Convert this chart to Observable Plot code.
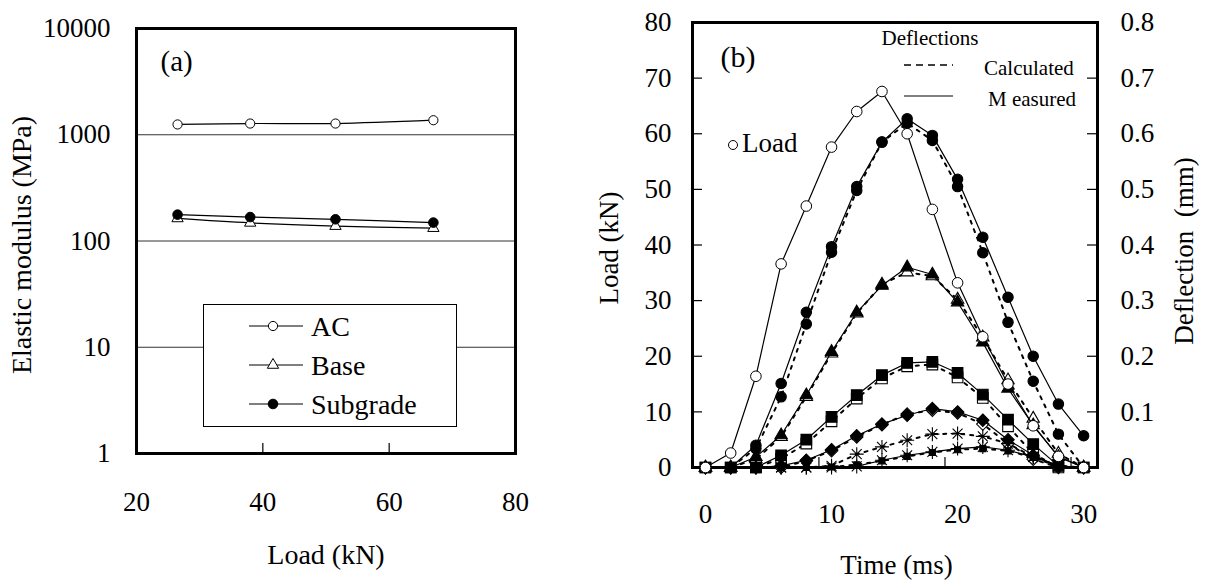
<!DOCTYPE html>
<html><head><meta charset="utf-8">
<script src="https://cdn.jsdelivr.net/npm/d3@7"></script>
<script src="https://cdn.jsdelivr.net/npm/@observablehq/plot@0.6"></script>
<style>
body{margin:0;background:#fff;}
#wrap{position:relative;width:1207px;height:580px;background:#fff;}
#pa{position:absolute;left:0;top:0;width:560px;height:580px;}
#pb{position:absolute;left:560px;top:0;width:647px;height:580px;}
</style></head><body>
<div id="wrap"><div id="pa"></div><div id="pb"></div></div>
<script>
// ---------- Panel (a) data ----------
const loadA = [26.5, 38, 51.5, 67];
const acA = [1250, 1275, 1275, 1370];
const baseA = [163, 148, 138, 132];
const subA = [177, 168, 160, 149];
const xTicksA = [20, 40, 60, 80];
const yTicksA = [1, 10, 100, 1000, 10000];
const gridA = [10, 100, 1000];
const xMarksA = [40, 60];
const legendA = ["AC", "Base", "Subgrade"];

// ---------- Panel (b) data ----------
const timeB = [0, 2, 4, 6, 8, 10, 12, 14, 16, 18, 20, 22, 24, 26, 28, 30];
const loadB = [0, 2.6, 16.4, 36.6, 47.0, 57.6, 64.0, 67.6, 60.0, 46.4, 33.2, 23.5, 15.0, 7.5, 2.0, 0];
const measCircle = [0, 0, 0.040, 0.151, 0.279, 0.397, 0.505, 0.585, 0.627, 0.597, 0.518, 0.414, 0.306, 0.200, 0.114, 0.057];
const calcCircle = [0, 0, 0.034, 0.127, 0.258, 0.387, 0.498, 0.585, 0.619, 0.588, 0.505, 0.386, 0.261, 0.155, 0.060, 0];
const measTri = [0, 0, 0.019, 0.058, 0.130, 0.208, 0.279, 0.327, 0.360, 0.347, 0.297, 0.225, 0.142, 0.076, 0.019, 0];
const calcTri = [0, 0, 0.015, 0.055, 0.127, 0.205, 0.277, 0.329, 0.351, 0.344, 0.302, 0.234, 0.157, 0.088, 0.025, 0];
const measSq = [0, 0, 0, 0.022, 0.050, 0.091, 0.130, 0.166, 0.188, 0.190, 0.170, 0.131, 0.086, 0.042, 0.003, 0];
const calcSq = [0, 0, 0, 0.016, 0.043, 0.083, 0.124, 0.160, 0.182, 0.185, 0.162, 0.125, 0.074, 0.025, 0, 0];
const measDia = [0, 0, 0, 0.003, 0.013, 0.032, 0.057, 0.078, 0.094, 0.106, 0.100, 0.085, 0.050, 0.022, 0.002, 0];
const calcDia = [0, 0, 0, 0, 0.012, 0.030, 0.055, 0.077, 0.096, 0.103, 0.098, 0.078, 0.043, 0.015, 0, 0];
const calcStar = [0, 0, 0, 0, 0, 0.003, 0.024, 0.037, 0.049, 0.060, 0.061, 0.056, 0.043, 0.019, 0.003, 0];
const measLow = [0, 0, 0, 0, 0, 0, 0.002, 0.013, 0.022, 0.028, 0.034, 0.037, 0.031, 0.019, 0.003, 0];
const calcLow = [0, 0, 0, 0, 0, 0.001, 0.005, 0.012, 0.020, 0.027, 0.032, 0.034, 0.030, 0.018, 0.002, 0];
const xTicksB = [0, 10, 20, 30];
const xMarksB = [9, 19, 29];
const yTicksB = [0, 10, 20, 30, 40, 50, 60, 70, 80];
const yMarksB = [10, 20, 30, 40, 50, 60, 70];
const legendB = ["Calculated", "M easured"];

const FONT = '"Liberation Serif", "Times New Roman", serif';

// ---------- Panel (a) ----------
const rowsA = vals => loadA.map((x, i) => ({x, y: vals[i]}));
const styleA = [
  {vals: acA, symbol: "circle", fill: "white", r: 4.6},
  {vals: baseA, symbol: "triangle", fill: "white", r: 4.2},
  {vals: subA, symbol: "circle", fill: "black", r: 4.8}
];
const frameHA = 453 - 28;
const pa = Plot.plot({
  width: 560, height: 580,
  marginLeft: 136, marginRight: 45, marginTop: 28, marginBottom: 127,
  x: {domain: [20, 80]},
  y: {type: "log", domain: [1, 10000]},
  style: {fontFamily: FONT, fontSize: "27px", color: "#000", background: "#fff"},
  marks: [
    Plot.ruleY(gridA, {stroke: "#333", strokeWidth: 1}),
    Plot.frame({stroke: "#000", strokeWidth: 3}),
    Plot.ruleX(xMarksA, {insetTop: frameHA - 10, stroke: "#000", strokeWidth: 1.2}),
    Plot.axisX(xTicksA, {tickSize: 0, tickPadding: 38, label: null, fontSize: 27}),
    Plot.axisY(yTicksA, {tickSize: 0, tickPadding: 26, label: null, fontSize: 27, tickFormat: d3.format("d")}),
    ...styleA.flatMap(s => {
      const data = rowsA(s.vals);
      return [
        Plot.line(data, {x: "x", y: "y", stroke: "#000", strokeWidth: 1.2, curve: "catmull-rom"}),
        Plot.dot(data, {x: "x", y: "y", symbol: s.symbol, r: s.r, fill: s.fill, stroke: "#000", strokeWidth: 1})
      ];
    }),
    Plot.text(["(a)"], {text: d => d, frameAnchor: "top-left", dx: 24, dy: 33, textAnchor: "start", lineAnchor: "middle", fontSize: 29}),
    Plot.text(["Elastic modulus (MPa)"], {text: d => d, frameAnchor: "left", rotate: -90, dx: -114, dy: 4, textAnchor: "middle", lineAnchor: "middle", fontSize: 28}),
    Plot.text(["Load (kN)"], {text: d => d, frameAnchor: "bottom", dy: 102, textAnchor: "middle", lineAnchor: "middle", fontSize: 28})
  ]
});
document.getElementById("pa").append(pa);

// legend (a)
{
  const svg = d3.select(pa);
  const g = svg.append("g");
  g.append("rect").attr("x", 203.5).attr("y", 304.5).attr("width", 253).attr("height", 122)
    .attr("fill", "#fff").attr("stroke", "#000").attr("stroke-width", 1);
  legendA.forEach((name, i) => {
    const y = 326 + i * 39;
    const s = styleA[i];
    g.append("line").attr("x1", 249).attr("x2", 303).attr("y1", y).attr("y2", y)
      .attr("stroke", "#000").attr("stroke-width", 1.2);
    g.append("path").attr("transform", `translate(273,${y})`)
      .attr("d", d3.symbol(s.symbol === "triangle" ? d3.symbolTriangle : d3.symbolCircle, Math.PI * s.r * s.r)())
      .attr("fill", s.fill).attr("stroke", "#000");
    g.append("text").attr("x", 311).attr("y", y).attr("dy", "0.34em")
      .style("font-family", FONT).style("font-size", "28px").style("text-anchor", "start").text(name);
  });
}

// ---------- Panel (b) ----------
const star8 = {draw(ctx, size) {
  const r = Math.sqrt(size / Math.PI);
  for (let i = 0; i < 4; i++) {
    const a = i * Math.PI / 4;
    ctx.moveTo(r * Math.cos(a), r * Math.sin(a));
    ctx.lineTo(-r * Math.cos(a), -r * Math.sin(a));
  }
}};
const seriesB = [
  {vals: calcCircle, symbol: d3.symbolCircle, fill: "black", r: 5.2, dash: true},
  {vals: measCircle, symbol: d3.symbolCircle, fill: "black", r: 5.2, dash: false},
  {vals: calcTri, symbol: d3.symbolTriangle, fill: "white", r: 4.6, dash: true},
  {vals: measTri, symbol: d3.symbolTriangle, fill: "black", r: 4.6, dash: false},
  {vals: calcSq, symbol: d3.symbolSquare, fill: "white", r: 6.0, dash: true},
  {vals: measSq, symbol: d3.symbolSquare, fill: "black", r: 6.0, dash: false},
  {vals: calcDia, symbol: d3.symbolDiamond2, fill: "white", r: 5.6, dash: true},
  {vals: measDia, symbol: d3.symbolDiamond2, fill: "black", r: 5.6, dash: false},
  {vals: calcStar, symbol: star8, fill: "none", r: 7, dash: true},
  {vals: calcLow, symbol: d3.symbolSquare, fill: "black", r: 3.4, dash: true},
  {vals: measLow, symbol: star8, fill: "none", r: 7, dash: false}
];
const rowsB = vals => timeB.map((t, i) => ({t, v: vals[i]}));
const loadRows = rowsB(loadB);
const frameWB = 405, frameHB = 445;
const pb = Plot.plot({
  width: 647, height: 580,
  marginLeft: 132, marginRight: 110, marginTop: 22, marginBottom: 113,
  x: {domain: [-1.03, 31.1]},
  y: {domain: [0, 80]},
  style: {fontFamily: FONT, fontSize: "27px", color: "#000", background: "#fff"},
  marks: [
    Plot.frame({stroke: "#000", strokeWidth: 3}),
    Plot.ruleY(yMarksB, {insetRight: frameWB - 10, stroke: "#000", strokeWidth: 1.2}),
    Plot.ruleY(yMarksB, {insetLeft: frameWB - 10, stroke: "#000", strokeWidth: 1.2}),
    Plot.ruleX(xMarksB, {insetTop: frameHB - 10, stroke: "#000", strokeWidth: 1.2}),
    Plot.axisX(xTicksB, {tickSize: 0, tickPadding: 36, label: null, fontSize: 27}),
    Plot.axisY(yTicksB, {anchor: "left", tickSize: 0, tickPadding: 21, label: null, fontSize: 27}),
    Plot.axisY(yTicksB, {anchor: "right", tickSize: 0, tickPadding: 23, label: null, fontSize: 27,
      tickFormat: d => String(+(d / 100).toFixed(1))}),
    ...seriesB.flatMap(s => {
      const data = rowsB(s.vals);
      return [
        Plot.line(data, {x: "t", y: d => d.v * 100, stroke: "#000",
          strokeWidth: s.dash ? 2 : 1.2, strokeDasharray: s.dash ? "3,6" : null}),
        Plot.dot(data, {x: "t", y: d => d.v * 100, symbol: s.symbol, r: s.r, fill: s.fill,
          stroke: "#000", strokeWidth: 1.1})
      ];
    }),
    Plot.line(loadRows, {x: "t", y: "v", stroke: "#000", strokeWidth: 1.2}),
    Plot.dot(loadRows, {x: "t", y: "v", symbol: "circle", r: 5.3, fill: "white", stroke: "#000", strokeWidth: 1}),
    Plot.text(["Load (kN)"], {text: d => d, frameAnchor: "left", rotate: -90, dx: -83, dy: 3, textAnchor: "middle", lineAnchor: "middle", fontSize: 27}),
    Plot.text(["Deflection\u00a0 (mm)"], {text: d => d, frameAnchor: "right", rotate: -90, dx: 87, dy: 6, textAnchor: "middle", lineAnchor: "middle", fontSize: 27}),
    Plot.text(["Time (ms)"], {text: d => d, frameAnchor: "bottom", dx: 1.5, dy: 98, textAnchor: "middle", lineAnchor: "middle", fontSize: 27}),
    Plot.text(["(b)"], {text: d => d, frameAnchor: "top-left", dx: 28, dy: 35, textAnchor: "start", lineAnchor: "middle", fontSize: 30})
  ]
});
document.getElementById("pb").append(pb);

// annotations / legend (b)
{
  const svg = d3.select(pb);
  const g = svg.append("g");
  g.append("circle").attr("cx", 173).attr("cy", 145).attr("r", 4.5).attr("fill", "#fff").attr("stroke", "#000");
  g.append("text").attr("x", 182).attr("y", 143).attr("dy", "0.34em")
    .style("font-family", FONT).style("font-size", "27px").style("text-anchor", "start").text("Load");
  g.append("text").attr("x", 370).attr("y", 38).attr("dy", "0.34em")
    .style("font-family", FONT).style("font-size", "21px").style("text-anchor", "middle").text("Deflections");
  const ys = [65, 96];
  legendB.forEach((name, i) => {
    g.append("line").attr("x1", 344).attr("x2", 393).attr("y1", ys[i]).attr("y2", ys[i])
      .attr("stroke", "#000").attr("stroke-width", i === 0 ? 1.5 : 1.2)
      .attr("stroke-dasharray", i === 0 ? "7,5" : null);
    g.append("text").attr("x", i === 0 ? 424 : 428).attr("y", ys[i] + 3).attr("dy", "0.34em")
      .style("font-family", FONT).style("font-size", "21px").style("text-anchor", "start").text(name);
  });
}
</script>
</body></html>
